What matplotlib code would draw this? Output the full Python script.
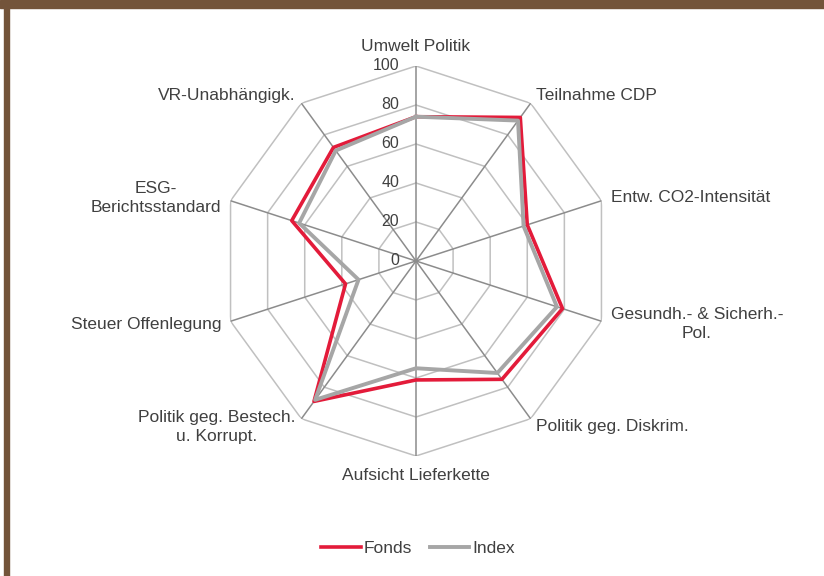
import numpy as np
import matplotlib
matplotlib.use("Agg")
import matplotlib.pyplot as plt
from matplotlib.patches import Rectangle
from matplotlib.transforms import offset_copy

categories = ["Umwelt Politik", "Teilnahme CDP", "Entw. CO2-Intensität",
              "Gesundh.- & Sicherh.-\nPol.", "Politik geg. Diskrim.",
              "Aufsicht Lieferkette", "Politik geg. Bestech.\nu. Korrupt.",
              "Steuer Offenlegung", "ESG-\nBerichtsstandard", "VR-Unabhängigk."]
fonds = [74, 91, 60, 79, 75, 61, 89, 38, 67, 72]
index = [74, 89, 58, 76, 71, 55, 88, 31, 63, 70]
rings = [0, 20, 40, 60, 80, 100]

text_col = "#404040"
plt.rcParams["font.family"] = ["Liberation Sans", "DejaVu Sans"]

fig = plt.figure(figsize=(8.24, 5.76), dpi=100)
fig.patches.append(Rectangle((0, 576 - 8), 824, 8, transform=None, color="#73543a"))
fig.patches.append(Rectangle((4, 0), 5, 576, transform=None, color="#73543a"))

ax = fig.add_axes([221 / 824, 120 / 576, 390 / 824, 390 / 576], projection="polar")
ax.set_theta_zero_location("N")
ax.set_theta_direction(-1)
ax.set_ylim(0, 100)
ax.axis("off")

n = len(categories)
theta = np.linspace(0, 2 * np.pi, n, endpoint=False)
closed = np.append(theta, theta[0])

# polygon grid
for r in rings[1:]:
    ax.plot(closed, [r] * (n + 1), color="#c0c0c0", lw=1.1, zorder=1)
for t in theta:
    ax.plot([t, t], [0, 100], color="#8c8c8c", lw=1.1, zorder=1)

ax.plot(closed, fonds + fonds[:1], color="#e31b3a", lw=2.6, zorder=3, label="Fonds")
ax.plot(closed, index + index[:1], color="#a6a6a6", lw=2.8, zorder=4, label="Index")

# radial tick labels
tick_tr = offset_copy(ax.transData, fig=fig, x=-12, y=0, units="points")
for r in rings:
    ax.text(0, r, str(r), transform=tick_tr, ha="right", va="center",
            fontsize=11.5, color=text_col)

# category labels
for t, lab in zip(theta, categories):
    deg = np.degrees(t)
    if np.isclose(deg, 0) or np.isclose(deg, 180):
        ax.text(t, 110, lab, ha="center", va="center", fontsize=12.5,
                color=text_col, multialignment="center")
    else:
        ha = "left" if deg < 180 else "right"
        ax.text(t, 105, lab, ha=ha, va="center", fontsize=12.5,
                color=text_col, multialignment="center", linespacing=1.35)

handles, labels = ax.get_legend_handles_labels()
fig.legend(handles, labels, loc="center", bbox_to_anchor=(418 / 824, 28 / 576),
           ncol=2, frameon=False, fontsize=12.5, handlelength=2.3,
           handletextpad=0.15, columnspacing=1.0, labelcolor=text_col)

fig.savefig("out.png", dpi=100)
